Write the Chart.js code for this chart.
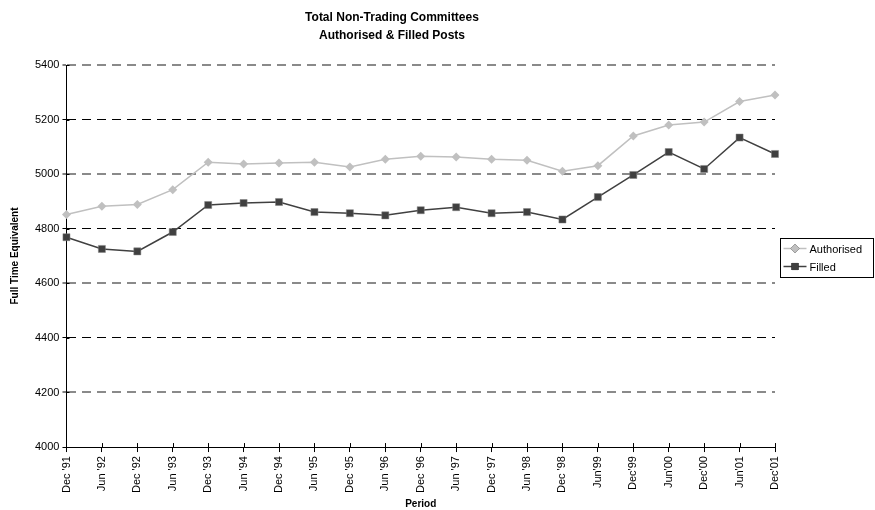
<!DOCTYPE html>
<html>
<head>
<meta charset="utf-8">
<script src="https://cdn.jsdelivr.net/npm/chart.js@4.4.0/dist/chart.umd.min.js"></script>
<style>
  html, body { margin: 0; padding: 0; background: #fff; }
  #wrap { width: 875px; height: 510px; }
</style>
</head>
<body>
<div id="wrap"><canvas id="chart"></canvas></div>
<script>
const periods = [
  "Dec '91","Jun '92","Dec '92","Jun '93","Dec '93","Jun '94","Dec '94",
  "Jun '95","Dec '95","Jun '96","Dec '96","Jun '97","Dec '97","Jun '98",
  "Dec '98","Jun'99","Dec'99","Jun'00","Dec'00","Jun'01","Dec'01"
];
const authorised = [
  4852, 4882, 4889, 4943, 5044, 5037, 5041, 5044, 5026, 5055, 5066,
  5063, 5055, 5051, 5011, 5031, 5140, 5180, 5191, 5266, 5290
];
const filled = [
  4769, 4726, 4717, 4788, 4887, 4894, 4898, 4861, 4857, 4849, 4868,
  4879, 4857, 4861, 4834, 4916, 4997, 5081, 5019, 5134, 5074
];
const yMin = 4000, yMax = 5400, yStep = 200;

const FONT = "'Liberation Sans', Arial, sans-serif";
Chart.defaults.font.family = FONT;
Chart.defaults.color = '#000';

// legend with a border, drawn like the original
const boxLegend = {
  id: 'boxLegend',
  afterDraw(chart) {
    const ctx = chart.ctx;
    const x = 780.5, y = 238.5, w = 93, h = 39;
    ctx.save();
    ctx.strokeStyle = '#000';
    ctx.lineWidth = 1;
    ctx.strokeRect(x, y, w, h);
    const items = [
      { text: 'Authorised', ds: chart.data.datasets[0] },
      { text: 'Filled', ds: chart.data.datasets[1] }
    ];
    items.forEach((it, i) => {
      const cy = y + 10 + i * 18;
      ctx.strokeStyle = it.ds.borderColor;
      ctx.lineWidth = it.ds.borderWidth;
      ctx.beginPath();
      ctx.moveTo(x + 3, cy);
      ctx.lineTo(x + 26, cy);
      ctx.stroke();
      Chart.helpers.drawPoint(ctx, {
        pointStyle: it.ds.pointStyle,
        radius: it.ds.pointRadius,
        borderWidth: 0
      }, x + 14.5, cy);
      ctx.fillStyle = it.ds.pointBackgroundColor;
      ctx.fill();
      ctx.fillStyle = '#000';
      ctx.font = '11px ' + FONT;
      ctx.textBaseline = 'middle';
      ctx.fillText(it.text, x + 29, cy + 1);
    });
    ctx.restore();
  }
};

// tick marks that cross the axis lines (inner half)
const crossTicks = {
  id: 'crossTicks',
  afterDatasetsDraw(chart) {
    const xs = chart.scales.x, ys = chart.scales.y, ctx = chart.ctx;
    const a = chart.chartArea;
    ctx.save();
    ctx.strokeStyle = '#000';
    ctx.lineWidth = 1;
    ctx.beginPath();
    xs.ticks.forEach((t, i) => {
      const px = Math.round(xs.getPixelForTick(i)) + 0.5;
      ctx.moveTo(px, a.bottom - 4);
      ctx.lineTo(px, a.bottom);
    });
    ys.ticks.forEach((t, i) => {
      const py = Math.round(ys.getPixelForTick(i)) + 0.5;
      ctx.moveTo(a.left, py);
      ctx.lineTo(a.left + 3, py);
    });
    ctx.stroke();
    ctx.restore();
  }
};

new Chart(document.getElementById('chart'), {
  type: 'line',
  data: {
    labels: periods,
    datasets: [
      {
        label: 'Authorised',
        data: authorised,
        borderColor: '#c0c0c0',
        borderWidth: 1.5,
        pointStyle: 'rectRot',
        pointRadius: 4.5,
        pointBackgroundColor: '#c0c0c0',
        pointBorderColor: '#c0c0c0',
        pointBorderWidth: 0,
        tension: 0
      },
      {
        label: 'Filled',
        data: filled,
        borderColor: '#404040',
        borderWidth: 1.5,
        pointStyle: 'rect',
        pointRadius: 5,
        pointBackgroundColor: '#404040',
        pointBorderColor: '#808080',
        pointBorderWidth: 0.5,
        tension: 0
      }
    ]
  },
  options: {
    responsive: true,
    maintainAspectRatio: false,
    animation: false,
    layout: { padding: { left: 9, right: 100, top: 0, bottom: 0 } },
    plugins: {
      legend: { display: false },
      tooltip: { enabled: false },
      title: {
        display: true,
        text: ['Total Non-Trading Committees', 'Authorised & Filled Posts'],
        font: { size: 12, weight: 'bold', lineHeight: 1.5 },
        color: '#000',
        padding: { top: 9, bottom: 20 }
      }
    },
    scales: {
      x: {
        offset: false,
        grid: { drawOnChartArea: false, drawTicks: true, tickLength: 5, color: '#000' },
        border: { color: '#000', width: 1 },
        ticks: { maxRotation: 90, minRotation: 90, autoSkip: false, font: { size: 11 }, color: '#000', padding: 4 },
        title: { display: true, text: 'Period', font: { size: 10, weight: 'bold' }, color: '#000', padding: { top: 1, bottom: 0 } }
      },
      y: {
        min: yMin,
        max: yMax,
        grid: {
          color: c => (c.tick && c.tick.value === yMin) ? 'rgba(0,0,0,0)' : ((c.tick && c.tick.value % 400 === 0) ? '#000' : '#8a8a8a'),
          lineWidth: c => (c.tick && c.tick.value % 400 !== 0) ? 2 : 1,
          tickColor: '#000',
          tickWidth: 1,
          drawTicks: true,
          tickLength: 4
        },
        border: { color: '#000', width: 1, dash: [9, 6] },
        ticks: { stepSize: yStep, font: { size: 11 }, color: '#000', padding: 3, callback: v => String(v) },
        title: { display: true, text: 'Full Time Equivalent', font: { size: 10, weight: 'bold' }, color: '#000', padding: { top: 0, bottom: 11 } }
      }
    }
  },
  plugins: [boxLegend, crossTicks]
});
</script>
</body>
</html>
